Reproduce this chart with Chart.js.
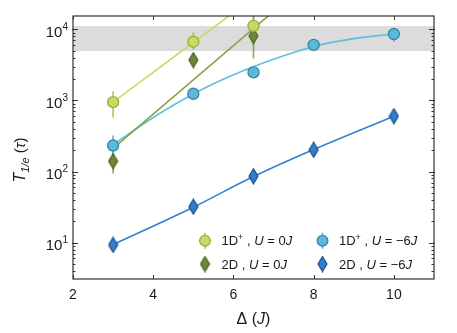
<!DOCTYPE html>
<html><head><meta charset="utf-8">
<script src="https://cdn.jsdelivr.net/npm/chart.js@4"></script>
<style>html,body{margin:0;padding:0;background:#fff}#wrap{width:457px;height:333px}</style>
</head><body><div id="wrap"><canvas id="c" width="457" height="333"></canvas></div>
<script>
// ---------- DATA ----------
const deltaA = [3, 5, 6.5];
const t1D_U0 = [946, 6700, 11200];
const t1D_U0_lo = [577, 5120, 8000];
const t1D_U0_hi = [1350, 9070, 16000];
const t2D_U0 = [140, 3700, 8050];
const t2D_U0_lo = [94, 3150, 3900];
const t2D_U0_hi = [197, 4350, 16000];
const deltaB = [3, 5, 6.5, 8, 10];
const t1D_U6 = [232, 1242, 2480, 6050, 8590];
const t1D_U6_lo = [170, 1120, 2250, 5500, 6700];
const t1D_U6_hi = [320, 1380, 2750, 6600, 10300];
const t2D_U6 = [9.3, 32, 86, 202, 601];
const t2D_U6_lo = [8.6, 30, 80, 190, 570];
const t2D_U6_hi = [10.1, 34, 92, 214, 635];
// fitted curves
const fit1D_U0_x = [3, 6.5];
const fit1D_U0_y = [946, 27900];
const fit2D_U0_x = [3, 7];
const fit2D_U0_y = [211, 17900];
const fit1D_U6_x = [3, 4, 5, 6, 7, 8, 9, 10];
const fit1D_U6_y = [240, 575, 1230, 2290, 3800, 5750, 7410, 8610];
const fit2D_U6_x = [3, 5, 6.5, 8, 10];
const fit2D_U6_y = [9.4, 31.5, 85, 204, 600];
const band = [4950, 11100];
const xTicks = [2, 4, 6, 8, 10];
const yMajor = [10, 100, 1000, 10000];
const yExp = ['1', '2', '3', '4'];
const xTitle = ['Δ (', 'J', ')'];
const legendLabels = [
  ['1D', '+', ' , ', 'U', ' = 0', 'J'],
  ['1D', '+', ' , ', 'U', ' = −6', 'J'],
  ['2D', '', ' , ', 'U', ' = 0', 'J'],
  ['2D', '', ' , ', 'U', ' = −6', 'J']
];

// ---------- STYLE ----------
const C1 = {fill:'#c6da66', edge:'#9db13f', line:'#c5da62', err:'#a9bd4a'};
const C2 = {fill:'#6e8736', edge:'#4c6124', line:'#8c9f48', err:'#8da146'};
const C3 = {fill:'#5bbadb', edge:'#3a88a9', line:'#5cbfe2', err:'#4da9cd'};
const C4 = {fill:'#2f7ecf', edge:'#1d4b86', line:'#2f82d4', err:'#2f82d4'};
const FONT = '"Liberation Sans", Arial, Helvetica, sans-serif';
const TXT = '#1a1a1a';

function diamond(fill, edge, w, h) {
  const c = document.createElement('canvas');
  c.width = w + 2; c.height = h + 2;
  const g = c.getContext('2d');
  g.beginPath();
  g.moveTo((w + 2) / 2, 1); g.lineTo(w + 1, (h + 2) / 2);
  g.lineTo((w + 2) / 2, h + 1); g.lineTo(1, (h + 2) / 2); g.closePath();
  g.fillStyle = fill; g.fill();
  g.lineWidth = 1.2; g.strokeStyle = edge; g.stroke();
  return c;
}
const dia2 = diamond(C2.fill, C2.edge, 9, 15);
const dia4 = diamond(C4.fill, C4.edge, 9, 15);

const pts = (xs, ys) => xs.map((x, i) => ({x: x, y: ys[i]}));
const fitDs = (xs, ys, col, smooth) => ({
  type: 'line', data: pts(xs, ys), borderColor: col, borderWidth: 1.6,
  pointRadius: 0, fill: false, tension: smooth ? 0.4 : 0,
  cubicInterpolationMode: smooth ? 'monotone' : 'default', order: 5
});
const markDs = (xs, ys, lo, hi, c, style) => ({
  type: 'scatter', data: pts(xs, ys), errLo: lo, errHi: hi, errColor: c.err,
  pointStyle: style, pointRadius: 5.5, pointBackgroundColor: c.fill,
  pointBorderColor: c.edge, pointBorderWidth: 1.4, showLine: false, order: 1
});

// ---------- PLUGIN ----------
function rich(ctx, x, y, parts) {
  // parts: [text, italic, size, dy]
  let cx = x;
  for (const p of parts) {
    if (!p[0]) continue;
    ctx.font = (p[1] ? 'italic ' : '') + p[2] + 'px ' + FONT;
    ctx.fillText(p[0], cx, y + (p[3] || 0));
    cx += ctx.measureText(p[0]).width;
  }
  return cx - x;
}
function richWidth(ctx, parts) {
  let w = 0;
  for (const p of parts) {
    if (!p[0]) continue;
    ctx.font = (p[1] ? 'italic ' : '') + p[2] + 'px ' + FONT;
    w += ctx.measureText(p[0]).width;
  }
  return w;
}

const deco = {
  id: 'deco',
  beforeDatasetsDraw(chart) {
    const {ctx, chartArea: a, scales: {x, y}} = chart;
    ctx.save();
    ctx.fillStyle = '#dcdcdc';
    const y1 = y.getPixelForValue(band[1]), y0 = y.getPixelForValue(band[0]);
    ctx.fillRect(a.left, y1, a.right - a.left, y0 - y1);
    ctx.beginPath(); ctx.rect(a.left, a.top, a.right - a.left, a.bottom - a.top); ctx.clip();
    chart.data.datasets.forEach(ds => {
      if (!ds.errLo) return;
      ctx.strokeStyle = ds.errColor; ctx.lineWidth = 1.5;
      ds.data.forEach((p, i) => {
        const px = x.getPixelForValue(p.x);
        ctx.beginPath();
        ctx.moveTo(px, y.getPixelForValue(ds.errLo[i]));
        ctx.lineTo(px, y.getPixelForValue(ds.errHi[i]));
        ctx.stroke();
      });
    });
    ctx.restore();
  },
  afterDatasetsDraw(chart) {
    const {ctx, chartArea: a, scales: {x, y}} = chart;
    ctx.save();
    // frame
    ctx.strokeStyle = '#333'; ctx.lineWidth = 1.2;
    ctx.strokeRect(a.left, a.top, a.right - a.left, a.bottom - a.top);
    // x ticks (inward, bottom and top)
    ctx.lineWidth = 1;
    xTicks.forEach(v => {
      const px = Math.round(x.getPixelForValue(v)) + 0.5;
      ctx.beginPath();
      ctx.moveTo(px, a.bottom); ctx.lineTo(px, a.bottom - 4);
      ctx.moveTo(px, a.top); ctx.lineTo(px, a.top + 4);
      ctx.stroke();
    });
    // y ticks
    const decs = [1, 10, 100, 1000, 10000];
    decs.forEach(d => {
      for (let m = 1; m <= 9; m++) {
        const v = d * m;
        if (v < y.min || v > y.max) continue;
        const py = Math.round(y.getPixelForValue(v)) + 0.5;
        const len = m === 1 ? 5 : 2.5;
        ctx.beginPath();
        ctx.moveTo(a.left - (m === 1 ? 1 : 0), py); ctx.lineTo(a.left + len, py);
        ctx.moveTo(a.right + (m === 1 ? 1 : 0), py); ctx.lineTo(a.right - len, py);
        ctx.stroke();
      }
    });
    // y tick labels 10^k
    ctx.fillStyle = TXT; ctx.textBaseline = 'alphabetic'; ctx.textAlign = 'left';
    yMajor.forEach((v, i) => {
      const py = y.getPixelForValue(v);
      const parts = [['10', false, 15, 0], [yExp[i], false, 10, -7]];
      const w = richWidth(ctx, parts);
      rich(ctx, 68 - w, py + 7.5, parts);
    });
    // y title
    ctx.save();
    ctx.translate(25, 160); ctx.rotate(-Math.PI / 2);
    const yt = [['T', true, 16, 0], ['1/e', true, 11, 4], [' (', false, 15, 0], ['τ', true, 15, 0], [')', false, 15, 0]];
    const ytw = richWidth(ctx, yt);
    rich(ctx, -ytw / 2, 0, yt);
    ctx.restore();
    // x title
    const xt = [[xTitle[0], false, 16, 0], [xTitle[1], true, 16, 0], [xTitle[2], false, 16, 0]];
    const xtw = richWidth(ctx, xt);
    rich(ctx, (a.left + a.right) / 2 - xtw / 2, 324, xt);
    // legend
    const cols = [205, 322.5], rows = [240.7, 264];
    const marks = [[C1, 'c'], [C3, 'c'], [C2, dia2], [C4, dia4]];
    legendLabels.forEach((L, i) => {
      const mx = cols[i % 2], my = rows[Math.floor(i / 2)];
      const [c, st] = marks[i];
      if (st === 'c') {
        ctx.strokeStyle = c.err; ctx.lineWidth = 1.5;
        ctx.beginPath(); ctx.moveTo(mx, my - 8); ctx.lineTo(mx, my + 8); ctx.stroke();
        ctx.beginPath(); ctx.arc(mx, my, 5.3, 0, Math.PI * 2);
        ctx.fillStyle = c.fill; ctx.fill();
        ctx.strokeStyle = c.edge; ctx.lineWidth = 1.4; ctx.stroke();
      } else {
        ctx.drawImage(st, mx - st.width / 2, my - st.height / 2);
      }
      ctx.fillStyle = TXT;
      const parts = [[L[0], false, 13, 0], [L[1], false, 9, -5], [L[2], false, 13, 0],
                     [L[3], true, 13, 0], [L[4], false, 13, 0], [L[5], true, 13, 0]];
      rich(ctx, mx + 16.5, my + 4.7, parts);
    });
    ctx.restore();
  }
};

new Chart(document.getElementById('c'), {
  type: 'scatter',
  data: {
    datasets: [
      markDs(deltaA, t1D_U0, t1D_U0_lo, t1D_U0_hi, C1, 'circle'),
      markDs(deltaA, t2D_U0, t2D_U0_lo, t2D_U0_hi, C2, dia2),
      markDs(deltaB, t1D_U6, t1D_U6_lo, t1D_U6_hi, C3, 'circle'),
      markDs(deltaB, t2D_U6, t2D_U6_lo, t2D_U6_hi, C4, dia4),
      fitDs(fit1D_U0_x, fit1D_U0_y, C1.line, false),
      fitDs(fit2D_U0_x, fit2D_U0_y, C2.line, false),
      fitDs(fit1D_U6_x, fit1D_U6_y, C3.line, true),
      fitDs(fit2D_U6_x, fit2D_U6_y, C4.line, true)
    ]
  },
  options: {
    responsive: false, animation: false, devicePixelRatio: 1,
    layout: {padding: {top: 16, right: 23, left: 0, bottom: 0}},
    plugins: {legend: {display: false}, tooltip: {enabled: false}},
    events: [],
    scales: {
      x: {
        type: 'linear', min: 2, max: 11,
        afterBuildTicks: s => { s.ticks = xTicks.map(v => ({value: v})); },
        afterFit: s => { s.height = 54; },
        grid: {display: false, drawTicks: false}, border: {display: false},
        ticks: {padding: 8, color: TXT, font: {family: FONT, size: 14}}
      },
      y: {
        type: 'logarithmic', min: 3.08, max: 15400,
        afterFit: s => { s.width = 73; },
        grid: {display: false}, border: {display: false},
        ticks: {display: false}
      }
    }
  },
  plugins: [deco]
});
</script>
</body></html>
